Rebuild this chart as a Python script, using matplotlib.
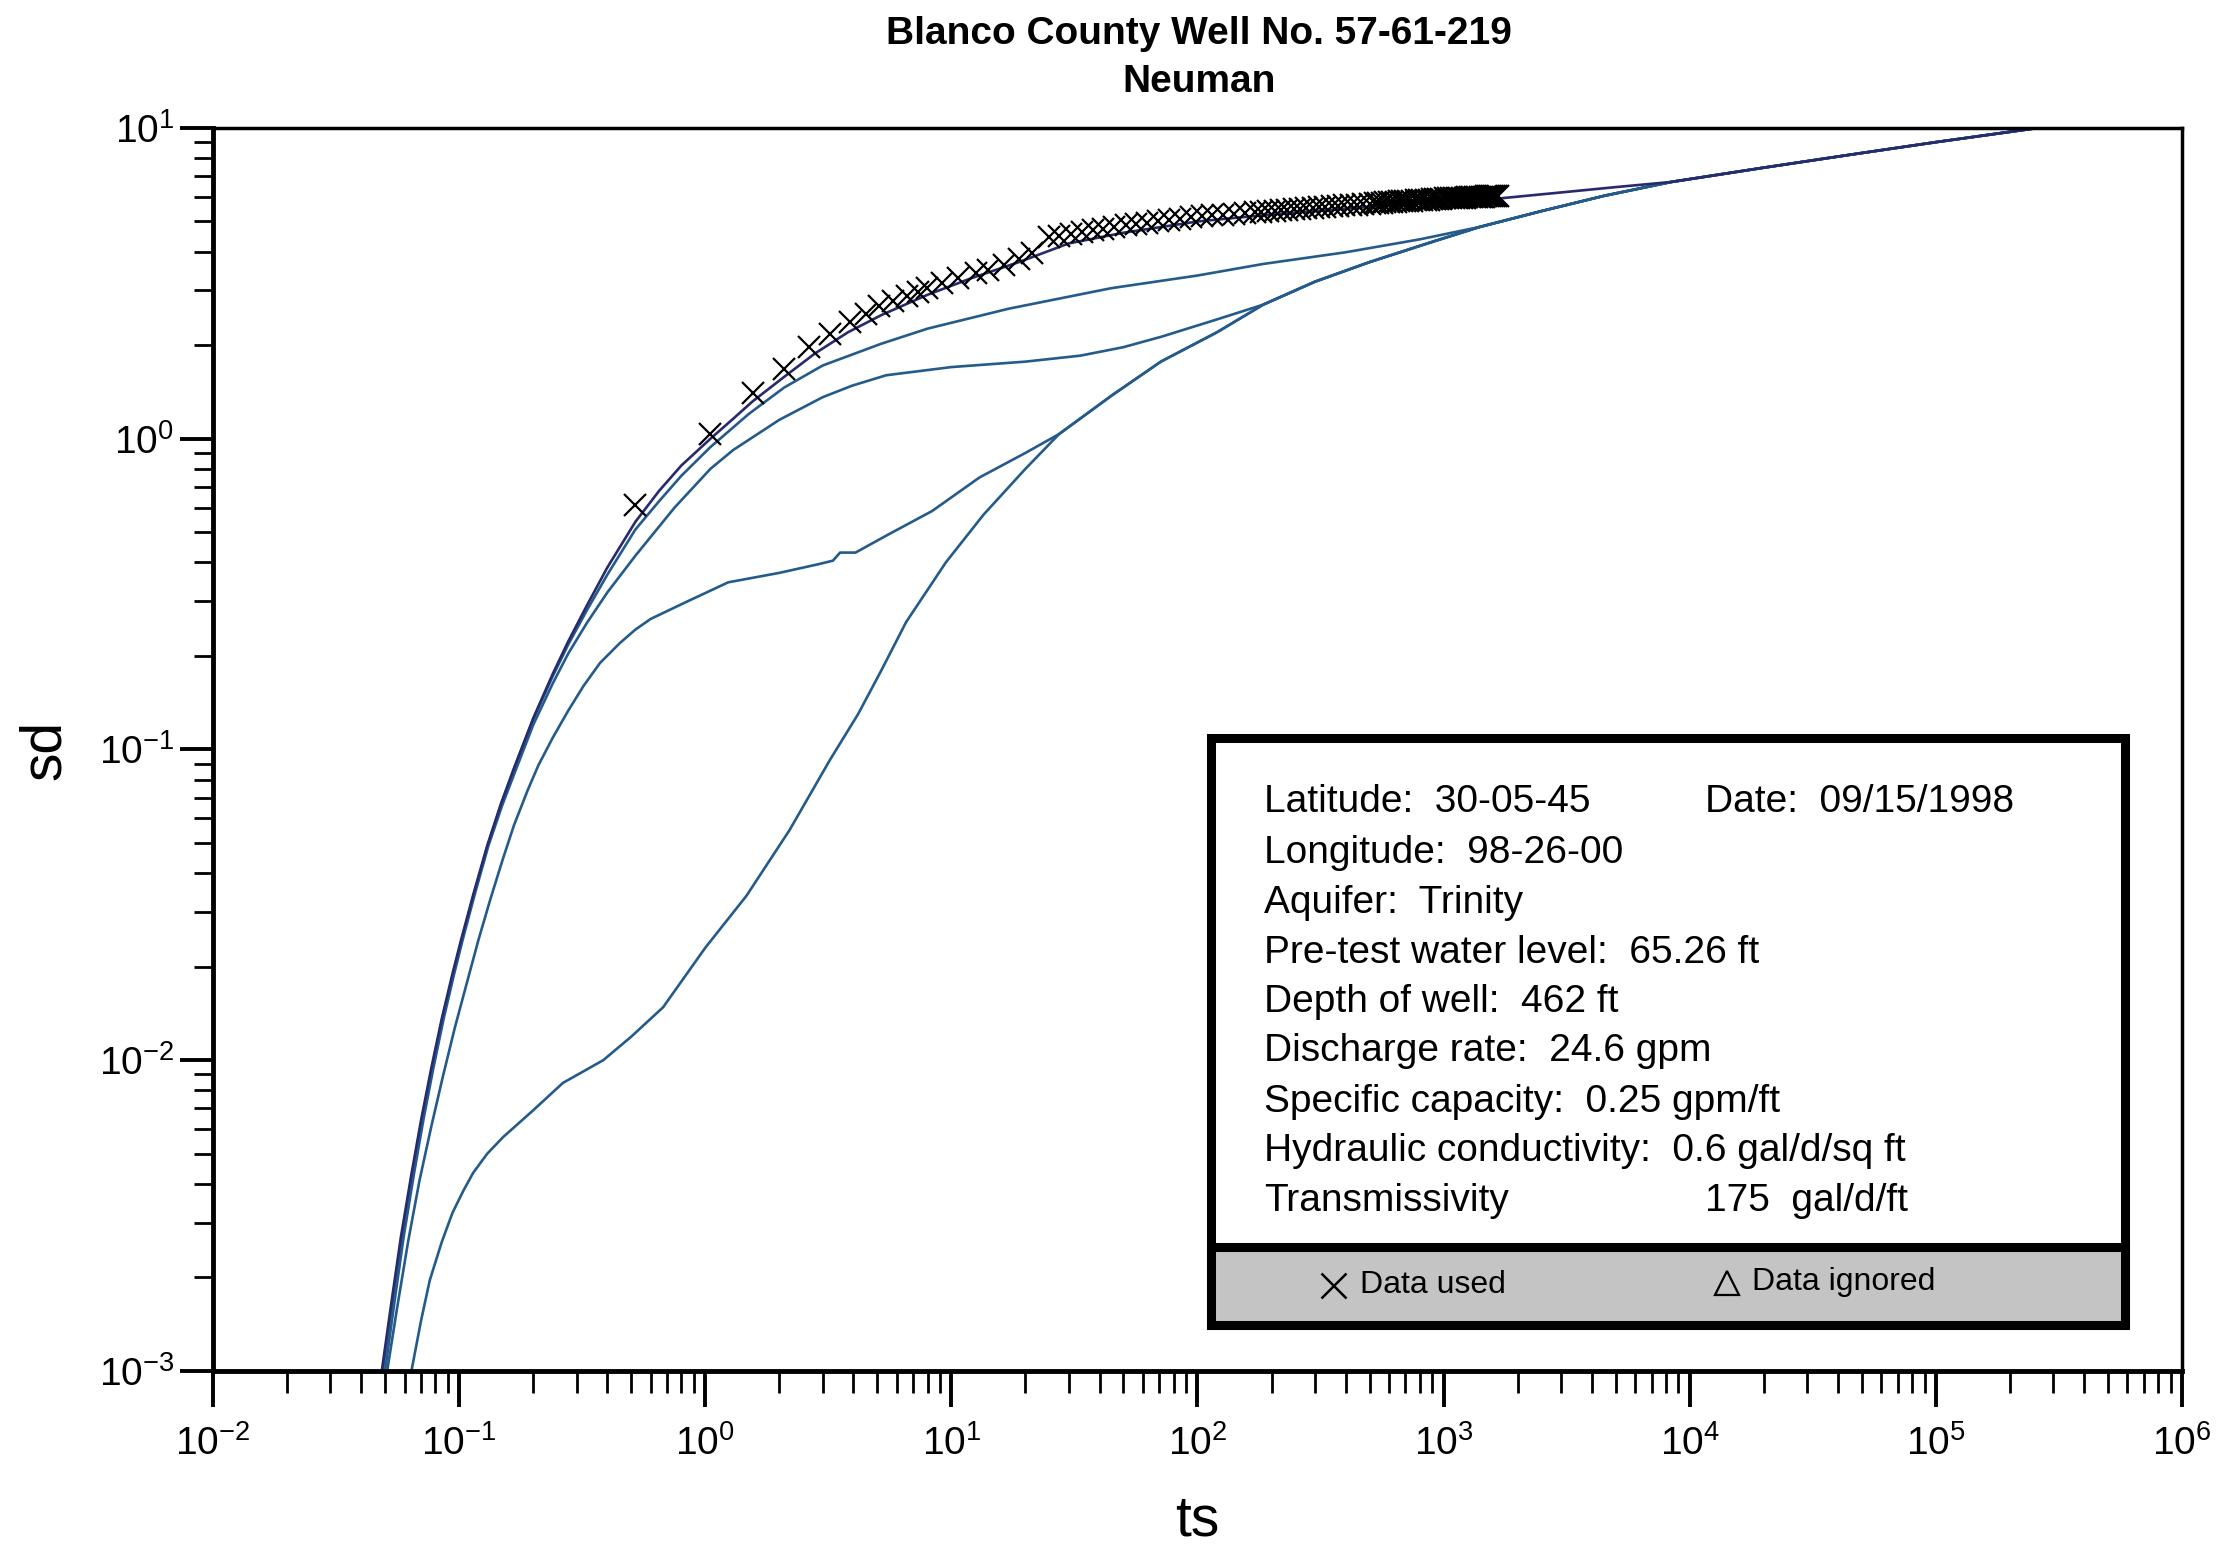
import matplotlib
matplotlib.use("Agg")
import matplotlib.pyplot as plt
from matplotlib.patches import Rectangle

plt.rcParams['font.family'] = ['Liberation Sans', 'DejaVu Sans']

# late-time envelope curve (ts, sd)
ts_late = [0.064, 0.07, 0.076, 0.085, 0.094, 0.104, 0.114, 0.13, 0.151, 0.2, 0.264, 0.385, 0.5,
           0.674, 1.0, 1.47, 2.2, 3.21, 4.18, 5.2, 6.55, 9.5, 13.5, 20, 27.4, 45, 71, 120, 185,
           300, 500, 900, 1400, 2500, 4500, 8400, 20000, 44900, 100000, 260000]
sd_late = [0.001, 0.00145, 0.00196, 0.0026, 0.00323, 0.0038, 0.00434, 0.005, 0.00566, 0.0069,
           0.00845, 0.0100, 0.0119, 0.0148, 0.023, 0.0338, 0.055, 0.0925, 0.13, 0.18, 0.257, 0.40,
           0.569, 0.80, 1.035, 1.38, 1.77, 2.2, 2.7, 3.2, 3.7, 4.3, 4.8, 5.4, 6.05, 6.7, 7.45,
           8.2, 9.0, 10.0]

# curve fitted to the data
ts_a = [0.0485, 0.053, 0.058, 0.064, 0.07, 0.077, 0.085, 0.094, 0.102, 0.114, 0.13, 0.148, 0.167,
        0.2, 0.24, 0.277, 0.33, 0.4, 0.52, 0.65, 0.8, 1.05, 1.3, 1.56, 2.09, 2.79, 3.8, 5.2,
        7.96, 12, 18.8, 30, 50, 100, 200, 400, 800, 1680, 3000, 5000, 8400]
sd_a = [0.001, 0.00165, 0.0027, 0.0043, 0.0064, 0.0094, 0.0136, 0.019, 0.0245, 0.034, 0.049,
        0.067, 0.087, 0.126, 0.175, 0.222, 0.29, 0.385, 0.54, 0.68, 0.82, 1.0, 1.16, 1.32, 1.58,
        1.88, 2.2, 2.5, 2.9, 3.28, 3.7, 4.25, 4.6, 5.0, 5.27, 5.5, 5.72, 5.93, 6.2, 6.45, 6.7]

ts_b = [0.049, 0.0535, 0.0585, 0.0645, 0.0705, 0.0775, 0.0855, 0.0945, 0.1025, 0.1145, 0.1305,
        0.1485, 0.1675, 0.2, 0.24, 0.277, 0.33, 0.4, 0.52, 0.65, 0.8, 1.05, 1.5, 2.09, 3.0,
        5.18, 8.0, 17.1, 44.6, 100, 185, 400, 800, 1400]
sd_b = [0.001, 0.00165, 0.0027, 0.0043, 0.0064, 0.0094, 0.0136, 0.019, 0.0245, 0.034, 0.049,
        0.067, 0.087, 0.125, 0.172, 0.217, 0.28, 0.365, 0.51, 0.63, 0.76, 0.94, 1.2, 1.46, 1.72,
        2.02, 2.26, 2.62, 3.05, 3.35, 3.65, 3.98, 4.38, 4.8]

ts_c = [0.05, 0.0545, 0.0595, 0.0655, 0.0715, 0.0785, 0.0865, 0.0955, 0.1035, 0.1155, 0.1315,
        0.1495, 0.169, 0.2, 0.24, 0.277, 0.33, 0.4, 0.52, 0.75, 1.05, 1.3, 2.0, 3.0, 3.94, 5.43,
        10, 20, 33.4, 50, 71.5, 120, 185]
sd_c = [0.001, 0.00165, 0.0027, 0.0043, 0.0064, 0.0094, 0.0136, 0.019, 0.0245, 0.034, 0.049,
        0.066, 0.085, 0.12, 0.163, 0.203, 0.255, 0.32, 0.42, 0.6, 0.8, 0.92, 1.15, 1.36, 1.48,
        1.6, 1.7, 1.77, 1.85, 1.97, 2.13, 2.42, 2.7]

ts_d = [0.051, 0.056, 0.062, 0.069, 0.077, 0.086, 0.096, 0.107, 0.12, 0.134, 0.15, 0.167, 0.19,
        0.21, 0.24, 0.277, 0.32, 0.374, 0.45, 0.52, 0.6, 0.85, 1.24, 2.0, 2.9, 3.3, 3.53, 4.08,
        5.5, 8.35, 13, 20, 27.4]
sd_d = [0.001, 0.0016, 0.0026, 0.0041, 0.0061, 0.0089, 0.0127, 0.0175, 0.0245, 0.033, 0.044,
        0.057, 0.074, 0.089, 0.109, 0.133, 0.16, 0.19, 0.22, 0.243, 0.263, 0.30, 0.345, 0.37,
        0.395, 0.405, 0.43, 0.43, 0.49, 0.585, 0.75, 0.9, 1.035]

# observed drawdown data ("Data used")
data_ts = [0.52, 1.05, 1.56, 2.09, 2.65, 3.21, 3.87, 4.5, 5.06, 5.8, 6.58, 7.3, 7.96, 9.16, 10.6,
           12.6, 14.1, 16.4, 18.8, 21.3,
           24.9, 27.5, 30.5, 34, 37.5, 41.5, 46, 51, 56.5, 62.5, 69, 76.5, 85, 94, 104, 115, 127,
           141, 156, 172,
           182, 194, 206, 219, 232, 246, 261, 277, 294, 312, 331, 351, 372, 395, 419, 444, 471,
           500, 525,
           540, 560, 580, 600, 620, 640, 660, 680, 700, 720, 745, 770, 795, 820, 845, 870, 895,
           920, 950, 980, 1010, 1040, 1070, 1100, 1130, 1160, 1190, 1220, 1250, 1280, 1310, 1340,
           1370, 1400, 1430, 1460, 1490, 1520, 1550, 1580, 1610, 1640, 1670]
data_sd = [0.61, 1.035, 1.40, 1.68, 1.97, 2.17, 2.38, 2.52, 2.67, 2.78, 2.88, 2.97, 3.05, 3.17,
           3.29, 3.41, 3.49, 3.62, 3.78, 3.97,
           4.45, 4.5, 4.55, 4.62, 4.68, 4.74, 4.8, 4.86, 4.91, 4.96, 5.01, 5.06, 5.11, 5.15, 5.19,
           5.23, 5.26, 5.29, 5.32, 5.35,
           5.37, 5.39, 5.41, 5.43, 5.45, 5.47, 5.49, 5.51, 5.53, 5.55, 5.57, 5.59, 5.61, 5.63,
           5.65, 5.67, 5.69, 5.71, 5.73,
           5.74, 5.75, 5.76, 5.77, 5.78, 5.79, 5.8, 5.81, 5.82, 5.83, 5.84, 5.85, 5.86, 5.87,
           5.88, 5.88, 5.89, 5.9, 5.91, 5.92, 5.93, 5.93, 5.94, 5.95, 5.96, 5.96, 5.97, 5.97,
           5.98, 5.98, 5.99, 5.99, 6.0, 6.0, 6.01, 6.01, 6.02, 6.02, 6.02, 6.03, 6.03, 6.03, 6.04]

info_lines = ["Latitude:  30-05-45", "Longitude:  98-26-00", "Aquifer:  Trinity",
              "Pre-test water level:  65.26 ft", "Depth of well:  462 ft",
              "Discharge rate:  24.6 gpm", "Specific capacity:  0.25 gpm/ft",
              "Hydraulic conductivity:  0.6 gal/d/sq ft", "Transmissivity"]
info_y = [0.458, 0.417, 0.3765, 0.336, 0.297, 0.257, 0.2165, 0.177, 0.137]

curve_col = '#245b8b'
fit_col = '#272a6c'


def with_tail(ts, sd):
    # a type curve follows the late-time envelope once it has joined it
    t_out = list(ts)
    s_out = list(sd)
    for t, s in zip(ts_late, sd_late):
        if t > ts[-1]:
            t_out.append(t)
            s_out.append(s)
    return t_out, s_out


fig = plt.figure(figsize=(22.26, 15.47), dpi=100)
ax = fig.add_axes([0.0957, 0.1138, 0.8845, 0.8035])
ax.set_xscale('log')
ax.set_yscale('log')
ax.set_xlim(1e-2, 1e6)
ax.set_ylim(1e-3, 1e1)

ax.plot(ts_late, sd_late, color=curve_col, lw=1.9)
for ts, sd in [(ts_d, sd_d), (ts_c, sd_c), (ts_b, sd_b)]:
    t, s = with_tail(ts, sd)
    ax.plot(t, s, color=curve_col, lw=1.9)
t, s = with_tail(ts_a, sd_a)
ax.plot(t, s, color=fit_col, lw=1.9)
ax.plot(data_ts, data_sd, ls='none', marker='x', ms=16, mew=1.6, color='black')

# frame and ticks
for side in ['left', 'bottom']:
    ax.spines[side].set_linewidth(3.5)
for side in ['top', 'right']:
    ax.spines[side].set_linewidth(2.5)
ax.tick_params(axis='x', which='major', direction='out', length=26, width=2.8,
               labelsize=28, pad=13)
ax.tick_params(axis='x', which='minor', direction='out', length=16, width=2)
ax.tick_params(axis='y', which='major', direction='out', length=24, width=2.8,
               labelsize=28, pad=4)
ax.tick_params(axis='y', which='minor', direction='out', length=14, width=2)

ax.set_xlabel('ts', fontsize=41)
ax.set_ylabel('sd', fontsize=41)
ax.xaxis.set_label_coords(0.5, -0.12)
ax.xaxis.label.set_verticalalignment('center')
ax.yaxis.set_label_coords(-0.0855, 0.5)
ax.yaxis.label.set_verticalalignment('center')

fig.text(0.5385, 0.978, 'Blanco County Well No. 57-61-219', ha='center', va='center',
         fontsize=28, fontweight='bold')
fig.text(0.5385, 0.947, 'Neuman', ha='center', va='center', fontsize=28, fontweight='bold')

# info box
ax.add_patch(Rectangle((0.507, 0.037), 0.464, 0.472, transform=ax.transAxes,
                       facecolor='white', edgecolor='black', lw=6.5, zorder=5))
ax.add_patch(Rectangle((0.507, 0.037), 0.464, 0.063, transform=ax.transAxes,
                       facecolor='#c4c4c4', edgecolor='black', lw=6.5, zorder=6))
for txt, y in zip(info_lines, info_y):
    ax.text(0.534, y, txt, transform=ax.transAxes, fontsize=28, va='center', zorder=7)
ax.text(0.758, info_y[0], 'Date:  09/15/1998', transform=ax.transAxes, fontsize=28,
        va='center', zorder=7)
ax.text(0.758, info_y[-1], '175  gal/d/ft', transform=ax.transAxes, fontsize=28,
        va='center', zorder=7)

ax.plot([0.569], [0.069], transform=ax.transAxes, marker='x', ms=18, mew=1.8,
        color='black', zorder=8, clip_on=False)
ax.text(0.5825, 0.069, 'Data used', transform=ax.transAxes, fontsize=23, va='center', zorder=8)
ax.plot([0.769], [0.0705], transform=ax.transAxes, marker='^', ms=17, mew=1.6,
        mfc='none', color='black', zorder=8, clip_on=False)
ax.text(0.7816, 0.0716, 'Data ignored', transform=ax.transAxes, fontsize=23, va='center',
        zorder=8)

fig.savefig('out.png', dpi=100)
